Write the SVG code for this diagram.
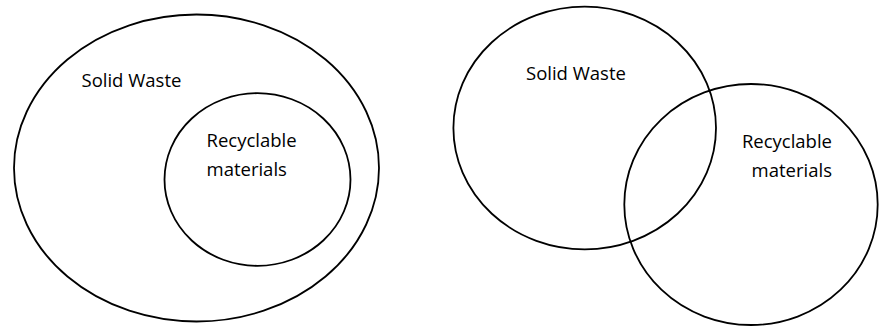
<svg xmlns="http://www.w3.org/2000/svg" width="879" height="326" viewBox="0 0 879 326">
<style>
.c{fill:none;stroke:#000;stroke-width:1.8}
.t{font-family:"Open Sans","Liberation Sans",sans-serif;font-size:18.5px;fill:#000}
</style>
<rect width="879" height="326" fill="#fff"/>
<g id="left-solid-waste">
<ellipse class="c" cx="196.5" cy="168" rx="182.5" ry="153.5"/>
<text class="t" x="81.5" y="87">Solid Waste</text>
</g>
<g id="left-recyclable">
<ellipse class="c" cx="257.5" cy="179.5" rx="93" ry="86.3"/>
<text class="t" x="206.5" y="147">Recyclable</text>
<text class="t" x="206.5" y="176">materials</text>
</g>
<g id="right-solid-waste">
<ellipse class="c" cx="584.7" cy="128" rx="131.3" ry="121.3"/>
<text class="t" x="526" y="80">Solid Waste</text>
</g>
<g id="right-recyclable">
<ellipse class="c" cx="751" cy="204.5" rx="126.7" ry="120.5"/>
<text class="t" x="832" y="148" text-anchor="end">Recyclable</text>
<text class="t" x="832" y="177" text-anchor="end">materials</text>
</g>
<g id="connectors"/>
</svg>
